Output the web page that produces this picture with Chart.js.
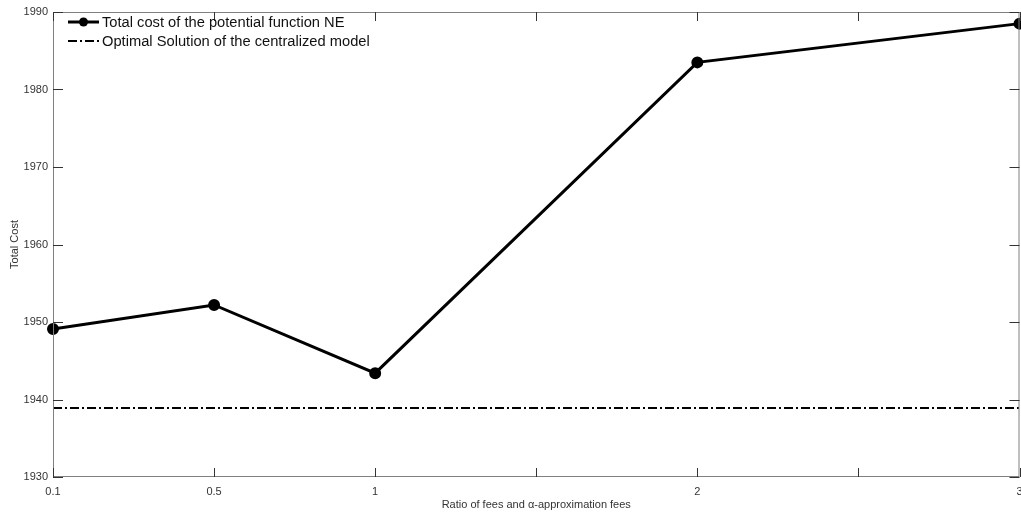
<!DOCTYPE html>
<html lang="en">
<head>
    <meta charset="UTF-8">
    <title>Total Cost</title>
    <script src="https://cdn.jsdelivr.net/npm/chart.js"></script>
    <style>
        body { margin: 0; background: #fff; overflow: hidden; }
    </style>
</head>
<body>
    <canvas id="costChart" width="1027" height="512"></canvas>

    <script>
        // x positions are slots 0..6, labels shown for some of them
        const slotLabels = ['0.1', '0.5', '1', '', '2', '', '3'];
        const pointSlots = [0, 1, 2, 4, 6];
        const neCost = [1949.1, 1952.2, 1943.4, 1983.5, 1988.5];
        const optimalCost = 1938.9;
        const yTicks = [1930, 1940, 1950, 1960, 1970, 1980, 1990];

        const FONT = 'Liberation Sans, Arial, sans-serif';

        // box around the plot plus inward ticks on all four sides
        const frame = {
            id: 'frame',
            afterDatasetsDraw(chart) {
                const { ctx, chartArea: a, scales: { x, y } } = chart;
                ctx.save();
                ctx.strokeStyle = '#808080';
                ctx.lineWidth = 1;
                ctx.strokeRect(a.left + 0.5, a.top + 0.5, a.right - a.left - 1, a.bottom - a.top - 1);
                ctx.strokeStyle = '#333';
                ctx.beginPath();
                slotLabels.forEach((_, i) => {
                    const px = Math.round(x.getPixelForValue(i)) + 0.5;
                    ctx.moveTo(px, a.bottom); ctx.lineTo(px, a.bottom - 9);
                    ctx.moveTo(px, a.top); ctx.lineTo(px, a.top + 9);
                });
                yTicks.forEach(v => {
                    const py = Math.round(y.getPixelForValue(v)) + 0.5;
                    ctx.moveTo(a.left, py); ctx.lineTo(a.left + 10, py);
                    ctx.moveTo(a.right, py); ctx.lineTo(a.right - 10, py);
                });
                ctx.stroke();

                // legend in the top-left corner
                chart.data.datasets.forEach((ds, i) => {
                    const ly = a.top + 10 + i * 19;
                    const lx = a.left + 15;
                    ctx.strokeStyle = '#000';
                    ctx.lineWidth = ds.borderWidth;
                    ctx.setLineDash(ds.borderDash || []);
                    ctx.beginPath();
                    ctx.moveTo(lx, ly); ctx.lineTo(lx + 31, ly);
                    ctx.stroke();
                    ctx.setLineDash([]);
                    if (ds.pointRadius > 0) {
                        ctx.fillStyle = '#000';
                        ctx.beginPath();
                        ctx.arc(lx + 15.5, ly, ds.pointRadius, 0, Math.PI * 2);
                        ctx.fill();
                    }
                    ctx.fillStyle = '#111';
                    ctx.font = '14.7px ' + FONT;
                    ctx.textBaseline = 'middle';
                    ctx.fillText(ds.label, lx + 34, ly + 1);
                });
                ctx.restore();
            }
        };

        const ctx = document.getElementById('costChart').getContext('2d');
        const myChart = new Chart(ctx, {
            type: 'line',
            data: {
                datasets: [{
                    label: 'Total cost of the potential function NE',
                    data: pointSlots.map((s, i) => ({ x: s, y: neCost[i] })),
                    borderColor: '#000',
                    backgroundColor: '#000',
                    borderWidth: 3,
                    pointRadius: 4.5,
                    clip: false,
                    tension: 0
                }, {
                    label: 'Optimal Solution of the centralized model',
                    data: [{ x: 0, y: optimalCost }, { x: 6, y: optimalCost }],
                    borderColor: '#000',
                    borderWidth: 2,
                    borderDash: [9, 3, 2, 3],
                    pointRadius: 0,
                    tension: 0
                }]
            },
            options: {
                responsive: false,
                animation: false,
                layout: { padding: { top: 12, left: 0, right: 0, bottom: 0 } },
                plugins: {
                    legend: { display: false },
                    tooltip: { enabled: false }
                },
                scales: {
                    x: {
                        type: 'linear',
                        min: 0,
                        max: 6,
                        grid: { display: false, drawTicks: false },
                        border: { display: false },
                        ticks: {
                            stepSize: 1,
                            autoSkip: false,
                            maxRotation: 0,
                            padding: 8,
                            color: '#333',
                            font: { family: FONT, size: 11 },
                            callback: v => slotLabels[v]
                        },
                        title: {
                            display: true,
                            text: 'Ratio of fees and α-approximation fees',
                            color: '#333',
                            padding: 0,
                            font: { family: FONT, size: 11 }
                        },
                        afterFit(scale) {
                            scale.height = 35;
                            scale.paddingLeft = 0;
                            scale.paddingRight = 0;
                        }
                    },
                    y: {
                        min: 1930,
                        max: 1990,
                        grid: { display: false, drawTicks: false },
                        border: { display: false },
                        ticks: {
                            stepSize: 10,
                            padding: 5,
                            color: '#333',
                            font: { family: FONT, size: 11 },
                            callback: v => String(v)
                        },
                        title: {
                            display: true,
                            text: 'Total Cost',
                            color: '#333',
                            padding: { top: 8, bottom: 0 },
                            font: { family: FONT, size: 11 }
                        },
                        afterFit(scale) {
                            scale.width = 53;
                            scale.paddingTop = 0;
                            scale.paddingBottom = 0;
                        }
                    }
                }
            },
            plugins: [frame]
        });
    </script>
</body>
</html>
